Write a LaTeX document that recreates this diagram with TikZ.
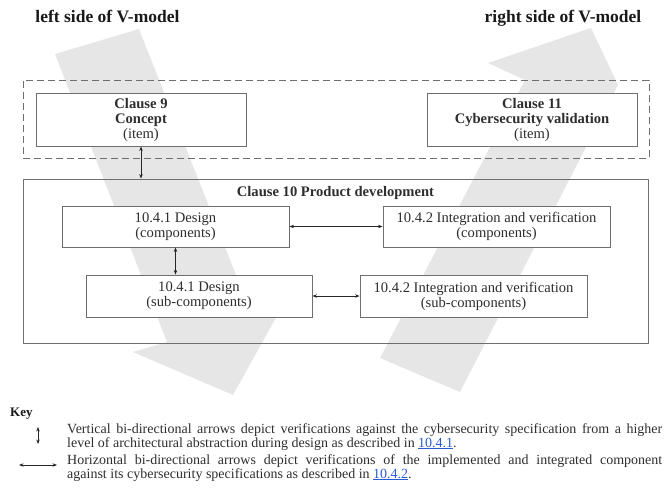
\documentclass[tikz,border=0pt]{standalone}
\usepackage{fontspec}
\setmainfont{Liberation Serif}
\usetikzlibrary{arrows.meta}
\definecolor{band}{HTML}{E6E6E6}
\definecolor{frame}{HTML}{6E6E6E}
\definecolor{txt}{HTML}{2E2E2E}
\definecolor{link}{HTML}{2B5CD6}
\begin{document}
\begin{tikzpicture}[x=1pt,y=-1pt,
  box/.style={draw=frame, line width=0.9pt, fill=white, inner sep=0pt, align=center, text=txt, font=\fontsize{14.6}{15}\selectfont},
  frm/.style={draw=frame, line width=0.9pt, inner sep=0pt},
  biarrow/.style={draw=black!85, line width=0.6pt, {Stealth[length=4.5pt,width=3.4pt]}-{Stealth[length=4.5pt,width=3.4pt]}},
  heading/.style={anchor=base, inner sep=0pt, text=black!90, font=\bfseries\fontsize{17.5}{18}\selectfont},
  keytext/.style={anchor=base west, inner sep=0pt, text=txt, font=\fontsize{14}{14}\selectfont}]
\useasboundingbox (0,0) rectangle (666,490);
% V-model bands
\fill[band] (55,54) -- (139,29) -- (238,280) -- (293,287) -- (233,395) -- (133,352) -- (167,342) -- cycle;
\fill[band] (380,358) -- (460,392) -- (618,85) -- (591,28) -- (488,63) -- (525,80) -- cycle;
% headings
\node[heading] (lh) at (107.5,22.7) {left side of V-model};
\node[heading] (rh) at (563,22.7) {right side of V-model};
% frames
\node[frm, dashed, dash pattern=on 7pt off 4pt, minimum width=626pt, minimum height=78pt] (outer) at (336,119) {};
\node[frm, minimum width=625pt, minimum height=164pt] (c10) at (335.5,261) {};
\node[anchor=base, inner sep=0pt, text=txt, font=\bfseries\fontsize{14.6}{15}\selectfont] (c10t) at (335.5,196) {Clause 10 Product development};
% boxes
\node[box, minimum width=210pt, minimum height=53pt] (c9) at (141,119.5) {\textbf{Clause 9}\\\textbf{Concept}\\(item)};
\node[box, minimum width=210pt, minimum height=53pt] (c11) at (532,119.5) {\textbf{Clause 11}\\\textbf{Cybersecurity validation}\\(item)};
\node[box, minimum width=227pt, minimum height=41pt] (dc) at (175.5,226.5) {10.4.1 Design\\(components)};
\node[box, minimum width=227pt, minimum height=41pt] (ic) at (496.5,226.5) {10.4.2 Integration and verification\\(components)};
\node[box, minimum width=226pt, minimum height=42pt] (ds) at (199,296) {10.4.1 Design\\(sub-components)};
\node[box, minimum width=227pt, minimum height=42pt] (is) at (473.5,296) {10.4.2 Integration and verification\\(sub-components)};
% connectors
\draw[biarrow] (c9.south) -- (c9.south |- c10.north);
\draw[biarrow] (dc.south) -- (dc.south |- ds.north);
\draw[biarrow] (dc.east) -- (ic.west);
\draw[biarrow] (ds.east) -- (is.west);
% key
\node[anchor=base west, inner sep=0pt, text=black!90, font=\bfseries\fontsize{13}{13}\selectfont] (key) at (10,416) {Key};
\coordinate (kv1) at (38,427);
\coordinate (kv2) at (38,444);
\coordinate (kh1) at (19,465);
\coordinate (kh2) at (57,465);
\draw[biarrow] (kv1) -- (kv2);
\draw[biarrow] (kh1) -- (kh2);
\node[keytext] (k1) at (67,433) {\makebox[595pt][s]{Vertical bi-directional arrows depict verifications against the cybersecurity specification from a higher}};
\node[keytext] (k2) at (67,447) {level of architectural abstraction during design as described in \textcolor{link}{\underline{10.4.1}}.};
\node[keytext] (k3) at (67,464) {\makebox[595pt][s]{Horizontal bi-directional arrows depict verifications of the implemented and integrated component}};
\node[keytext] (k4) at (67,478) {against its cybersecurity specifications as described in \textcolor{link}{\underline{10.4.2}}.};
\end{tikzpicture}
\end{document}
